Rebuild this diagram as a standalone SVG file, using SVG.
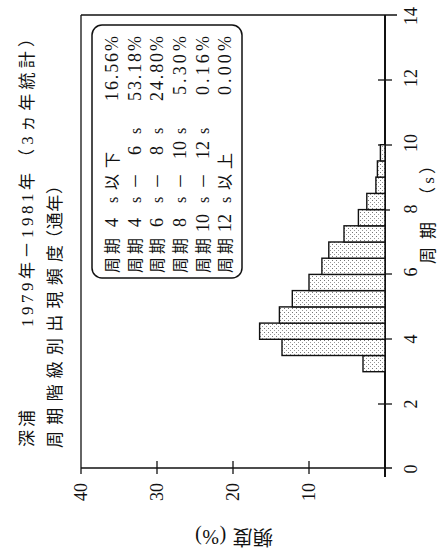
<svg xmlns="http://www.w3.org/2000/svg" width="442" height="549" viewBox="0 0 442 549">
<defs>
<pattern id="dots" width="4" height="4" patternUnits="userSpaceOnUse">
<rect width="4" height="4" fill="#fff"/>
<rect x="0" y="0" width="1" height="1" fill="#777"/>
<rect x="2" y="2" width="1" height="1" fill="#999"/>
</pattern>
</defs>
<style>
.t{font-family:"Liberation Serif","Noto Sans CJK JP",serif;fill:#111}
.ti{font-size:17px}
.lg{font-size:16px}
.d{font-size:18px}
.tk{font-size:18px}
.ln{stroke:#111;stroke-width:1.3;fill:none}
.ax{stroke:#111;stroke-width:2;fill:none}
.bar{fill:url(#dots);stroke:#111;stroke-width:1.4}
</style>
<rect width="442" height="549" fill="#fff"/>

<g id="title" class="t ti">
<text transform="translate(27,447) rotate(-90)" y="6" textLength="37" lengthAdjust="spacing">深浦</text>
<text transform="translate(27,327) rotate(-90)" y="6" textLength="154" lengthAdjust="spacing">1979年－1981年</text>
<text transform="translate(27,166) rotate(-90)" y="6" textLength="136" lengthAdjust="spacing">（3ヵ年統計）</text>
<text transform="translate(55,448) rotate(-90)" y="6" textLength="203" lengthAdjust="spacing">周期階級別出現頻度</text>
<text transform="translate(55,247) rotate(-90)" y="6" textLength="70" lengthAdjust="spacing">（通年）</text>
</g>

<g id="frame">
<line class="ln" x1="81" y1="15" x2="397" y2="15"/>
<line class="ln" x1="81" y1="15" x2="81" y2="474"/>
<line class="ln" x1="81" y1="468" x2="392" y2="468"/>
<line class="ax" x1="385" y1="15" x2="385" y2="477"/>
<line class="ln" x1="157" y1="461" x2="157" y2="474"/>
<line class="ln" x1="233" y1="461" x2="233" y2="474"/>
<line class="ln" x1="309" y1="461" x2="309" y2="474"/>
<line class="ln" x1="378" y1="404" x2="392" y2="404"/>
<line class="ln" x1="378" y1="339" x2="392" y2="339"/>
<line class="ln" x1="378" y1="274" x2="392" y2="274"/>
<line class="ln" x1="380" y1="210" x2="390" y2="210"/>
<line class="ln" x1="378" y1="145" x2="392" y2="145"/>
<line class="ln" x1="378" y1="80" x2="392" y2="80"/>
</g>

<g id="bars">
<rect class="bar" x="363" y="355.5" width="22" height="16.2"/>
<rect class="bar" x="282" y="339.3" width="103" height="16.2"/>
<rect class="bar" x="259.6" y="323.1" width="125.4" height="16.2"/>
<rect class="bar" x="279.4" y="306.9" width="105.6" height="16.2"/>
<rect class="bar" x="292.3" y="290.6" width="92.7" height="16.3"/>
<rect class="bar" x="309" y="274.4" width="76" height="16.2"/>
<rect class="bar" x="321.9" y="258.2" width="63.1" height="16.2"/>
<rect class="bar" x="328.8" y="242" width="56.2" height="16.2"/>
<rect class="bar" x="344" y="225.8" width="41" height="16.2"/>
<rect class="bar" x="358.4" y="209.6" width="26.6" height="16.2"/>
<rect class="bar" x="366.8" y="193.4" width="18.2" height="16.2"/>
<rect class="bar" x="375.9" y="177.1" width="9.1" height="16.3"/>
<rect class="bar" x="377.4" y="160.9" width="7.6" height="16.2"/>
<rect class="bar" x="380.4" y="144.7" width="4.6" height="16.2"/>
</g>

<g id="legend">
<rect x="92" y="25" width="150" height="253" rx="10" ry="10" fill="#fff" stroke="#111" stroke-width="1.5"/>
<g class="t lg">
<text transform="translate(112,273) rotate(-90)" y="6"><tspan x="0" textLength="35">周期</tspan><tspan class="d" x="46">4</tspan><tspan x="70">s</tspan><tspan x="83">以</tspan><tspan x="105">下</tspan></text>
<text class="d" transform="translate(112,36) rotate(-90)" y="6" text-anchor="end" textLength="65" lengthAdjust="spacing">16.56%</text>

<text transform="translate(135,273) rotate(-90)" y="6"><tspan x="0" textLength="35">周期</tspan><tspan class="d" x="46">4</tspan><tspan x="70">s</tspan><tspan x="84">－</tspan><tspan class="d" x="118">6</tspan><tspan x="139">s</tspan></text>
<text class="d" transform="translate(135,36) rotate(-90)" y="6" text-anchor="end" textLength="65" lengthAdjust="spacing">53.18%</text>

<text transform="translate(157,273) rotate(-90)" y="6"><tspan x="0" textLength="35">周期</tspan><tspan class="d" x="46">6</tspan><tspan x="70">s</tspan><tspan x="84">－</tspan><tspan class="d" x="118">8</tspan><tspan x="139">s</tspan></text>
<text class="d" transform="translate(157,36) rotate(-90)" y="6" text-anchor="end" textLength="65" lengthAdjust="spacing">24.80%</text>

<text transform="translate(180,273) rotate(-90)" y="6"><tspan x="0" textLength="35">周期</tspan><tspan class="d" x="46">8</tspan><tspan x="70">s</tspan><tspan x="84">－</tspan><tspan class="d" x="114">10</tspan><tspan x="139">s</tspan></text>
<text class="d" transform="translate(180,36) rotate(-90)" y="6" text-anchor="end" textLength="59" lengthAdjust="spacing">5.30%</text>

<text transform="translate(203,273) rotate(-90)" y="6"><tspan x="0" textLength="35">周期</tspan><tspan class="d" x="41">10</tspan><tspan x="70">s</tspan><tspan x="84">－</tspan><tspan class="d" x="114">12</tspan><tspan x="139">s</tspan></text>
<text class="d" transform="translate(203,36) rotate(-90)" y="6" text-anchor="end" textLength="59" lengthAdjust="spacing">0.16%</text>

<text transform="translate(225,273) rotate(-90)" y="6"><tspan x="0" textLength="35">周期</tspan><tspan class="d" x="41">12</tspan><tspan x="70">s</tspan><tspan x="83">以</tspan><tspan x="104">上</tspan></text>
<text class="d" transform="translate(225,36) rotate(-90)" y="6" text-anchor="end" textLength="59" lengthAdjust="spacing">0.00%</text>
</g>
</g>

<g id="labels" class="t tk" text-anchor="middle">
<text transform="translate(411,469) rotate(-90)" y="6">0</text>
<text transform="translate(411,404) rotate(-90)" y="6">2</text>
<text transform="translate(411,339) rotate(-90)" y="6">4</text>
<text transform="translate(411,272) rotate(-90)" y="6">6</text>
<text transform="translate(411,209) rotate(-90)" y="6">8</text>
<text transform="translate(411,143) rotate(-90)" y="6">10</text>
<text transform="translate(411,78) rotate(-90)" y="6">12</text>
<text transform="translate(411,16) rotate(-90)" y="6">14</text>
<text transform="translate(81,492) rotate(-90)" y="6">40</text>
<text transform="translate(157,492) rotate(-90)" y="6">30</text>
<text transform="translate(233,492) rotate(-90)" y="6">20</text>
<text transform="translate(309,492) rotate(-90)" y="6">10</text>
</g>

<g id="axis-titles" class="t ti">
<text transform="translate(428,264) rotate(-90)" y="6" textLength="42" lengthAdjust="spacing">周期</text>
<text transform="translate(428,204) rotate(-90)" y="6" textLength="47" lengthAdjust="spacing">（s）</text>
<text transform="translate(273,537) rotate(180)" y="7" style="font-size:20px" textLength="78" lengthAdjust="spacing">頻度 (%)</text>
</g>
</svg>
